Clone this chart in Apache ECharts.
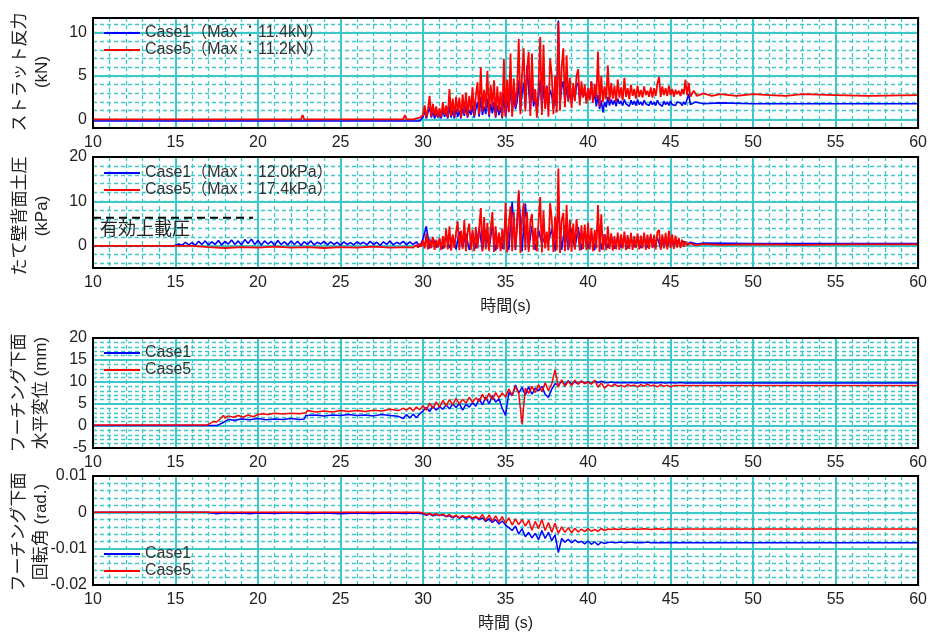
<!DOCTYPE html>
<html><head><meta charset="utf-8">
<script src="https://cdn.jsdelivr.net/npm/echarts@6/dist/echarts.min.js"></script>
<style>html,body{margin:0;padding:0;background:#fff}#c{width:930px;height:633px}</style>
</head><body><div id="c"></div>
<script>
// ---------------- tick values ----------------
const xTickStep = 5;
const p1MajorTicks = [0, 5, 10];
const p1MinorTicks = [0, 1, 2, 3, 4, 5, 6, 7, 8, 9, 10, 11];
const p2MajorTicks = [0, 10, 20];
const p2MinorTicks = [-4, -2, 0, 2, 4, 6, 8, 10, 12, 14, 16, 18];

// ---------------- legend names ----------------
const p1Names = ['Case1（Max ：11.4kN）', 'Case5（Max ：11.2kN）'];
const p2Names = ['Case1（Max ：12.0kPa）', 'Case5（Max ：17.4kPa）'];
const p34Names = ['Case1', 'Case5'];

// ---------------- Panel 1 : strut force (kN) ----------------
const strutDenseT0 = 29.5, strutDenseDt = 0.1;
const strutCase1Head = [[10, -0.2], [29.4, -0.2]];
const strutCase1Dense = [
  -0.2, -0.2, -0.1, -0.2, 0,
  0.3, 1.0, 0.1, 0.8, 1.4, 0.2, 0.9, 0.1, 0.7, 0.2,
  0.6, 0.1, 1.1, 0.3, 0.8, 0.1, 1.5, 0.2, 1.0, 0.1,
  1.2, 0.3, 1.0, 0.1, 1.3, 0.4, 1.5, 0.2, 1.1, 0.5,
  1.6, 0.2, 1.2, 2.0, 0.3, 2.6, 0.5, 1.5, 0.6, 2.4,
  0.3, 1.8, 0.7, 2.0, 0.2, 1.6, 0.5, 1.4, 0.1, 3.0,
  0.3, 2.2, 1.0, 3.8, 0.8, 2.6, 1.2, 2.0, 4.5, 1.0,
  3.0, 4.2, 1.3, 6.2, 3.5, 1.0, 3.8, 1.5, 2.6, 0.8,
  2.4, 4.6, 1.2, 4.0, 1.4, 3.9, 1.6, 3.4, 2.8, 1.2,
  2.8, 1.5, 11.4, 1.8, 3.6, 4.4, 2.0, 3.8, 2.2, 3.1,
  2.0, 3.4, 2.3, 3.9, 4.2, 2.1, 3.6, 2.6, 3.3, 2.2,
  3.0, 2.4, 4.4, 2.0, 3.1, 1.5, 2.8, 1.2, 2.2, 0.8,
  2.0, 1.4, 2.6, 1.6, 2.3, 1.7, 2.2, 1.5, 2.4, 1.8,
  2.1, 1.6, 2.3, 1.8, 2.0, 1.5, 2.2, 1.7, 2.1, 1.6,
  2.3, 1.7, 2.0, 1.6, 2.2, 1.8, 1.9, 1.6, 2.1, 1.7,
  2.0, 1.6, 2.2, 1.8, 1.9, 1.5, 2.1, 1.7, 2.0, 1.6,
  2.1, 1.7, 1.9, 1.6, 2.0, 1.8, 1.9, 1.6, 2.0, 1.7,
  1.8
];
const strutCase1Tail = [[46.1, 2.9], [46.2, 1.7], [46.5, 2.0], [47, 1.8], [48, 1.9], [50, 1.8], [53, 1.8], [56, 1.8], [60, 1.8]];

const strutCase5Head = [[10, 0], [22.6, 0], [22.7, 0.5], [22.8, 0], [28.8, 0], [28.9, 0.5], [29.0, 0], [29.4, 0]];
const strutCase5Dense = [
  0, 0.1, 0, 0.2, 0.3,
  0.5, 1.6, 0.2, 1.2, 2.7, 0.3, 1.8, 0.4, 1.5, 0.2,
  1.3, 0.3, 2.0, 0.5, 1.6, 0.2, 3.5, 0.4, 2.4, 0.3,
  2.6, 0.8, 2.5, 0.2, 2.9, 0.6, 3.1, 0.3, 2.7, 1.0,
  3.7, 0.4, 2.8, 4.3, 0.6, 6.0, 0.9, 3.4, 1.2, 5.6,
  0.5, 4.0, 1.4, 4.5, 0.3, 3.8, 1.0, 3.2, 0.2, 7.0,
  0.4, 4.6, 0.8, 7.6, 0.3, 4.7, 1.5, 3.6, 9.3, 0.6,
  5.2, 8.2, 0.9, 5.5, 7.8, 0.4, 7.6, 2.0, 3.5, 0.2,
  4.0, 9.5, 0.5, 8.6, 1.2, 3.8, 0.3, 7.0, 5.1, 0.6,
  5.0, 0.8, 11.2, 1.0, 6.0, 8.2, 1.4, 7.4, 2.0, 4.8,
  1.3, 4.2, 2.1, 5.0, 5.8, 1.6, 4.4, 2.5, 4.0, 1.8,
  3.6, 2.2, 4.4, 1.9, 4.1, 2.4, 7.8, 1.5, 5.0, 2.0,
  3.8, 2.3, 6.2, 2.1, 4.2, 2.4, 3.9, 2.0, 4.6, 2.5,
  3.7, 2.2, 4.8, 2.6, 3.6, 2.3, 4.0, 2.7, 3.5, 2.4,
  3.9, 2.6, 3.4, 2.5, 3.8, 2.8, 3.3, 2.6, 3.7, 2.5,
  3.6, 2.7, 4.1, 4.9, 2.6, 3.8, 2.8, 3.6, 2.7, 3.9,
  2.8, 3.5, 2.6, 3.4, 2.9, 3.3, 2.7, 3.5, 2.9, 4.6,
  2.8
];
const strutCase5Tail = [[46.1, 4.2], [46.2, 2.6], [46.4, 3.3], [46.6, 2.7], [47, 3.0], [47.5, 2.7], [48, 2.9], [49, 2.7], [50, 2.9], [51, 2.8], [52, 2.7], [53, 2.9], [55, 2.8], [57, 2.7], [60, 2.8]];

// ---------------- Panel 2 : earth pressure (kPa) ----------------
const pressCase1Head = [[10, 0], [14.9, 0]];
const pressCase1T0 = 15.0, pressCase1Dt = 0.2;
const pressCase1Dense = [
  0.0, 0.4, 0.1, 0.8, 0.2, 0.7, 0.1, 1.0, 0.3, 1.1,
  0.2, 0.9, 0.3, 1.2, 0.2, 1.0, 0.4, 1.3, 0.3, 1.1,
  0.2, 1.4, 0.5, 1.5, 0.3, 1.2, 0.2, 1.1, 0.4, 1.0,
  0.1, 1.2, 0.3, 0.9, 0.2, 1.1, 0.3, 1.0, 0.1, 0.9,
  0.3, 1.1, 0.2, 0.8, 0.4, 1.0, 0.2, 0.9, 0.3, 0.8,
  0.1, 0.9, 0.3, 0.7, 0.2, 0.9, 0.4, 0.8, 0.2, 1.0,
  0.3, 0.8, 0.1, 0.9, 0.3, 1.1, 0.2, 0.8, 0.4, 1.0,
  0.2, 0.9, 0.3,
  0.9, -0.2,
  1.6, 4.4, -0.6, 1.8, -0.4, 1.5, -0.7, 2.4, -0.5, 2.0,
  -0.8, 3.2, -0.4, 2.8, -0.9, 3.0, -0.6, 4.0, -1.0, 3.6,
  -0.5, 4.4, -1.1, 2.5, -0.7, 5.0, -0.9, 9.9, -1.0, 12.0,
  -1.2, 9.5, -0.8, 4.5, -1.0, 3.6, 0.5, 2.0, 1.0, 3.8,
  -1.1, 8.0, -0.9, 4.6, -1.0, 3.8, -0.7, 4.2, -0.9, 3.5,
  -0.6, 3.0, -1.0, 5.5, -0.8, 2.6, -0.5, 2.2, -0.7, 2.0,
  -0.4, 2.3, -0.6, 1.8, -0.3, 2.1, -0.5, 1.9, -0.4, 2.2,
  -0.3, 1.8, -0.5, 1.6, -0.2, 1.5, 0.0, 1.2, 0.1, 1.0,
  0.3
];
const pressCase1Tail = [[46.2, 0.8], [46.6, 0.4], [47, 0.6], [50, 0.5], [55, 0.5], [60, 0.5]];

const pressCase5Head = [[10, 0], [16.0, 0], [16.1, -0.4], [17, -0.3], [18, -0.5], [19, -0.3], [20, -0.4], [21, -0.2], [22, -0.4], [23, -0.3], [24, -0.5], [25, -0.3], [26, -0.4], [27, -0.2], [28, -0.4], [29, -0.3], [29.4, -0.4]];
const pressCase5T0 = 29.5, pressCase5Dt = 0.1;
const pressCase5Dense = [
  -0.3, 0.2, -0.4, 0.5, -0.2,
  1.2, -0.6, 2.8, -0.8, 1.6, -0.5, 2.0, -0.9, 1.4, -0.4,
  1.8, -1.0, 2.2, -0.6, 3.9, -0.8, 4.4, -1.1, 2.6, -0.5,
  3.0, 5.5, -1.0, 3.4, -0.7, 5.8, -1.2, 3.1, 5.0, -0.9,
  3.6, -1.2, 4.2, -0.6, 3.8, 8.5, -1.3, 6.5, -0.8, 5.2,
  -1.1, 4.0, 7.6, -1.4, 4.4, -0.7, 3.0, -1.2, 3.8, -0.9,
  9.7, -1.5, 5.0, 8.9, -1.2, 7.6, -0.8, 4.2, 12.5, -1.6,
  6.0, 9.6, -1.0, 7.6, -1.4, 5.4, 7.2, -0.9, 4.0, -1.2,
  5.5, 11.0, -1.5, 7.9, -0.6, 3.2, -1.1, 9.6, 6.0, -1.4,
  6.6, -1.0, 17.4, -1.6, 5.8, 7.4, -1.2, 9.2, -0.8, 5.8,
  -1.3, 5.0, -0.9, 6.0, 5.8, -1.1, 4.6, -0.7, 4.8, -1.0,
  5.2, -0.8, 4.0, -1.2, 3.6, -0.6, 9.2, -1.4, 7.1, -0.9,
  2.5, -1.0, 4.4, -0.7, 2.8, -1.1, 2.2, -0.8, 3.0, -0.9,
  2.6, -0.6, 3.2, -1.0, 2.4, -0.7, 2.9, -0.9, 2.2, -0.5,
  2.8, -0.8, 2.3, -0.6, 3.0, -0.9, 2.5, -0.7, 2.7, -0.5,
  2.4, -0.8, 3.1, 3.6, -0.9, 2.6, -0.6, 2.9, -0.8, 3.4,
  -0.5, 2.6, -0.7, 2.3, -0.4, 1.8, -0.5, 1.4, -0.2, 1.0,
  0.1
];
const pressCase5Tail = [[46.2, 0.6], [46.5, 0.1], [47, 0.4], [48, 0.2], [50, 0.3], [53, 0.2], [56, 0.3], [60, 0.3]];

const overburdenT = [10, 19.7];
const overburdenV = 6.3;

// ---------------- Panel 3 : footing horizontal displacement (mm) ----------------
const dispDenseT0 = 29.0, dispDenseDt = 0.2;
const dispCase1Head = [[10, 0.1], [17.5, 0.1], [17.9, 0.8], [18.2, 1.5], [18.6, 1.3], [19.0, 1.6], [19.5, 1.4], [20.0, 1.7], [20.5, 1.4], [21.0, 1.6], [21.5, 1.5], [22.0, 1.7], [22.5, 1.5], [22.8, 1.6], [22.9, 2.4], [23.5, 2.5], [24.0, 2.3], [24.5, 2.5], [25.0, 2.4], [25.5, 2.6], [26.0, 2.4], [26.5, 2.5], [27.0, 2.3], [27.5, 2.6], [28.0, 2.4], [28.5, 2.2], [28.8, 1.7]];
const dispCase1Dense = [
  2.6, 1.8, 2.7, 1.9, 2.8, 3.4, 4.2, 3.3, 4.5, 3.6,
  4.4, 3.8, 4.8, 3.9, 5.0, 4.2, 5.1, 3.6, 4.9, 4.3,
  5.3, 4.5, 6.2, 4.8, 6.6, 5.0, 6.9, 5.4, 6.2, 4.0,
  2.4, 7.6, 6.9, 9.3, 7.5, 8.8, 7.0, 8.9, 7.2, 8.6,
  8.0, 9.0, 7.2, 6.5, 8.4, 9.6, 9.3, 10.2, 9.4, 10.3,
  9.5, 10.0, 9.6, 10.2, 9.7, 10.1, 9.6, 10.3, 9.8, 10.2,
  9.9, 9.8, 10.0, 9.8, 9.9, 9.8, 9.9, 9.8, 9.9, 9.8,
  9.8, 9.9, 9.8, 9.8, 9.9, 9.8, 9.8, 9.9, 9.8, 9.8,
  9.9, 9.8, 9.8, 9.9, 9.8, 9.8
];
const dispCase1Tail = [[46.4, 9.8], [60, 9.8]];

const dispCase5Head = [[10, 0.2], [16.9, 0.2], [17.1, 0.6], [17.3, 1.0], [17.5, 0.9], [17.7, 1.6], [17.9, 2.4], [18.0, 1.8], [18.2, 2.3], [18.5, 2.0], [18.8, 2.4], [19.1, 2.0], [19.4, 2.5], [19.7, 2.1], [20.0, 2.6], [20.3, 2.8], [20.6, 2.6], [21.0, 2.9], [21.5, 2.7], [22.0, 2.9], [22.5, 2.8], [22.9, 3.0], [23.0, 3.5], [23.5, 3.2], [24.0, 3.4], [24.5, 3.2], [25.0, 3.5], [25.5, 3.3], [26.0, 3.5], [26.5, 3.3], [27.0, 3.6], [27.5, 3.4], [28.0, 3.8], [28.5, 3.5], [28.8, 4.0]];
const dispCase5Dense = [
  3.6, 4.2, 3.4, 4.3, 3.7, 4.6, 3.6, 5.2, 4.0, 5.5,
  4.3, 5.8, 4.6, 6.0, 4.8, 6.3, 5.0, 6.1, 5.2, 6.5,
  5.4, 6.4, 5.6, 7.2, 5.9, 7.4, 6.0, 7.6, 6.4, 7.5,
  6.6, 8.4, 7.0, 9.0, 7.4, 0.4, 8.6, 7.4, 9.0, 7.6,
  9.4, 7.8, 9.8, 8.0, 9.6, 12.8, 8.8, 10.5, 9.0, 10.2,
  9.2, 10.4, 9.5, 10.2, 9.6, 10.0, 9.5, 10.4, 8.8, 9.8,
  8.6, 9.4, 9.0, 9.5, 9.0, 9.3, 8.9, 9.4, 9.1, 9.3,
  8.9, 9.4, 9.0, 9.5, 9.1, 9.3, 8.9, 9.4, 9.0, 9.3,
  8.9, 9.2, 9.2, 9.2, 9.2, 9.2
];
const dispCase5Tail = [[46.4, 9.2], [60, 9.2]];

// ---------------- Panel 4 : footing rotation (rad.) ----------------
const rotDenseT0 = 29.0, rotDenseDt = 0.2;
const rotCase1Head = [[10, 0], [16.9, 0], [17.0, -0.0002], [17.5, -0.0004], [18.0, -0.0001], [18.5, -0.0003], [19.0, -0.0002], [19.5, -0.0004], [20, -0.0002], [21, -0.0003], [22, -0.0001], [23, -0.0003], [24, -0.0002], [25, -0.0004], [26, -0.0002], [27, -0.0003], [28, -0.0002], [28.8, -0.0003]];
const rotCase1Dense = [
  -0.0003, -0.0002, -0.0003, -0.0002, -0.0003, -0.0004, -0.0008, -0.0005, -0.0010, -0.0006,
  -0.0009, -0.0007, -0.0012, -0.0009, -0.0015, -0.0010, -0.0016, -0.0011, -0.0017, -0.0012,
  -0.0018, -0.0013, -0.0020, -0.0015, -0.0025, -0.0018, -0.0028, -0.0020, -0.0032, -0.0024,
  -0.0035, -0.0042, -0.0050, -0.0038, -0.0060, -0.0045, -0.0067, -0.0055, -0.0070, -0.0058,
  -0.0075, -0.0050, -0.0072, -0.0055, -0.0078, -0.0062, -0.0111, -0.0072, -0.0082, -0.0074,
  -0.0084, -0.0076, -0.0083, -0.0080, -0.0087, -0.0079, -0.0088, -0.0081, -0.0090, -0.0082,
  -0.0086, -0.0083, -0.0082, -0.0084, -0.0083, -0.0082, -0.0084, -0.0083, -0.0082, -0.0084,
  -0.0083, -0.0084, -0.0083, -0.0082, -0.0084, -0.0083, -0.0084, -0.0083, -0.0084, -0.0083,
  -0.0084, -0.0083, -0.0084, -0.0084, -0.0083, -0.0084
];
const rotCase1Tail = [[46.4, -0.0084], [60, -0.0084]];

const rotCase5Head = [[10, 0], [28.8, 0]];
const rotCase5Dense = [
  0, 0, 0, 0, 0, -0.0002, -0.0006, -0.0003, -0.0008, -0.0004,
  -0.0009, -0.0005, -0.0011, -0.0006, -0.0013, -0.0008, -0.0015, -0.0009, -0.0014, -0.0010,
  -0.0016, -0.0011, -0.0018, -0.0006, -0.0022, -0.0008, -0.0024, -0.0010, -0.0026, -0.0012,
  -0.0030, -0.0015, -0.0035, -0.0018, -0.0034, -0.0020, -0.0038, -0.0022, -0.0049, -0.0025,
  -0.0045, -0.0020, -0.0050, -0.0028, -0.0055, -0.0030, -0.0058, -0.0040, -0.0055, -0.0042,
  -0.0056, -0.0044, -0.0054, -0.0046, -0.0053, -0.0045, -0.0052, -0.0047, -0.0053, -0.0044,
  -0.0050, -0.0046, -0.0047, -0.0045, -0.0047, -0.0046, -0.0045, -0.0047, -0.0046, -0.0045,
  -0.0047, -0.0046, -0.0045, -0.0046, -0.0047, -0.0046, -0.0045, -0.0046, -0.0047, -0.0046,
  -0.0045, -0.0046, -0.0046, -0.0047, -0.0046, -0.0046
];
const rotCase5Tail = [[46.4, -0.0046], [60, -0.0046]];

// ---------------- build ----------------
function build(head, t0, dt, dense, tail) {
  const out = head.slice();
  dense.forEach((v, i) => out.push([Math.round((t0 + i * dt) * 100) / 100, v]));
  return out.concat(tail);
}

const BLUE = '#0000ff', RED = '#ff0000';
const GRIDC = '#3cc8c8';
const TXT = '#222';
const FONT = "'Liberation Sans', Arial, 'Noto Sans CJK JP', sans-serif";
const JFONT = "'Liberation Sans', 'Noto Sans CJK JP', sans-serif";

const grids = [
  { left: 93, width: 828, top: 18, height: 110 },
  { left: 93, width: 828, top: 157, height: 111 },
  { left: 93, width: 828, top: 338, height: 110 },
  { left: 93, width: 828, top: 476, height: 112 }
].map(g => Object.assign(g, { show: true, borderColor: '#000', borderWidth: 2, backgroundColor: 'transparent', z: 10 }));

function xAx(i, name) {
  return {
    type: 'value', gridIndex: i, min: 10, max: 60, interval: xTickStep,
    axisLine: { show: false }, axisTick: { show: false },
    axisLabel: { fontSize: 16, color: TXT, margin: 7, fontFamily: FONT, showMinLabel: true, showMaxLabel: true },
    splitLine: { show: true, lineStyle: { color: GRIDC, width: 2 } },
    minorTick: { show: false, splitNumber: 5 },
    minorSplitLine: { show: true, lineStyle: { color: GRIDC, width: 1.3, type: [4, 3] } },
    name: name || '', nameLocation: 'middle', nameGap: 31,
    nameTextStyle: { fontSize: 16, color: TXT, fontFamily: JFONT }
  };
}
const yLabel = { fontSize: 16, color: TXT, margin: 6, fontFamily: FONT };
function yMinor(i, min, max, ticks) {
  return {
    type: 'value', gridIndex: i, min: min, max: max, position: 'left',
    axisLine: { show: false }, axisTick: { show: false, customValues: ticks },
    axisLabel: { show: false },
    splitLine: { show: true, lineStyle: { color: GRIDC, width: 1.3, type: [4, 3] } }
  };
}
function yMajor(i, min, max, ticks) {
  return {
    type: 'value', gridIndex: i, min: min, max: max, position: 'left',
    axisLine: { show: false }, axisTick: { show: false, customValues: ticks },
    axisLabel: Object.assign({ customValues: ticks }, yLabel),
    splitLine: { show: true, lineStyle: { color: GRIDC, width: 2 } }
  };
}
function yNative(i, min, max, interval) {
  return {
    type: 'value', gridIndex: i, min: min, max: max, interval: interval, position: 'left',
    axisLine: { show: false }, axisTick: { show: false },
    axisLabel: Object.assign({ showMinLabel: true, showMaxLabel: true }, yLabel),
    splitLine: { show: true, lineStyle: { color: GRIDC, width: 2 } },
    minorTick: { show: false, splitNumber: 5 },
    minorSplitLine: { show: true, lineStyle: { color: GRIDC, width: 1.3, type: [4, 3] } }
  };
}

function ser(name, color, xi, yi, data, w) {
  return {
    type: 'line', name: name, xAxisIndex: xi, yAxisIndex: yi, data: data,
    showSymbol: false, symbol: 'none', sampling: null, animation: false,
    lineStyle: { color: color, width: w }, itemStyle: { color: color }, z: 3
  };
}
function leg(names, top) {
  return {
    data: names, left: 104, top: top, orient: 'vertical', padding: 0,
    itemWidth: 36, itemHeight: 14, itemGap: 0, selectedMode: false,
    icon: 'path://M0,6 L36,6 L36,8 L0,8 Z',
    textStyle: { fontSize: 16, color: '#333', fontFamily: JFONT, lineHeight: 17, padding: [0, 0, 0, 0] }
  };
}
function vTitle(text, cx, cy) {
  return {
    type: 'text', x: cx, y: cy, rotation: Math.PI / 2, z: 20,
    style: { text: text, font: "17px " + JFONT, fill: TXT, lineHeight: 22,
      textAlign: 'center', textVerticalAlign: 'middle', align: 'center', verticalAlign: 'middle' }
  };
}

const option = {
  animation: false,
  backgroundColor: '#fff',
  grid: grids,
  xAxis: [xAx(0), xAx(1, '時間(s)'), xAx(2), xAx(3, '時間 (s)')],
  yAxis: [
    yMinor(0, -1, 11.7, p1MinorTicks), yMajor(0, -1, 11.7, p1MajorTicks),
    yMinor(1, -5, 20, p2MinorTicks), yMajor(1, -5, 20, p2MajorTicks),
    yNative(2, -5, 20, 5),
    yNative(3, -0.02, 0.01, 0.01)
  ],
  legend: [leg(p1Names, 24.5), leg(p2Names, 164.5), leg(p34Names, 344.5), leg(p34Names, 545.5)],
  series: [
    ser(p1Names[0], BLUE, 0, 1, build(strutCase1Head, strutDenseT0, strutDenseDt, strutCase1Dense, strutCase1Tail), 1.6),
    ser(p1Names[1], RED, 0, 1, build(strutCase5Head, strutDenseT0, strutDenseDt, strutCase5Dense, strutCase5Tail), 1.8),
    ser(p2Names[0], BLUE, 1, 3, build(pressCase1Head, pressCase1T0, pressCase1Dt, pressCase1Dense, pressCase1Tail), 1.6),
    ser(p2Names[1], RED, 1, 3, build(pressCase5Head, pressCase5T0, pressCase5Dt, pressCase5Dense, pressCase5Tail), 1.8),
    {
      type: 'line', name: '有効上載圧', xAxisIndex: 1, yAxisIndex: 3, symbol: 'none', z: 4,
      data: overburdenT.map(t => [t, overburdenV]),
      lineStyle: { color: '#000', width: 2, type: [8, 5] }
    },
    ser(p34Names[0], BLUE, 2, 4, build(dispCase1Head, dispDenseT0, dispDenseDt, dispCase1Dense, dispCase1Tail), 1.5),
    ser(p34Names[1], RED, 2, 4, build(dispCase5Head, dispDenseT0, dispDenseDt, dispCase5Dense, dispCase5Tail), 1.5),
    ser(p34Names[0], BLUE, 3, 5, build(rotCase1Head, rotDenseT0, rotDenseDt, rotCase1Dense, rotCase1Tail), 1.5),
    ser(p34Names[1], RED, 3, 5, build(rotCase5Head, rotDenseT0, rotDenseDt, rotCase5Dense, rotCase5Tail), 1.5)
  ],
  graphic: [
    vTitle('ストラット反力\n(kN)', 31, 72),
    vTitle('たて壁背面土圧\n(kPa)', 31, 216),
    vTitle('フーチング下面\n水平変位 (mm)', 30, 393),
    vTitle('フーチング下面\n回転角 (rad.)', 30, 532),
    { type: 'text', x: 100, y: 230, z: 20,
      style: { text: '有効上載圧', font: "18px " + JFONT, fill: TXT,
        textAlign: 'left', textVerticalAlign: 'middle', align: 'left', verticalAlign: 'middle' } }
  ]
};

const chart = echarts.init(document.getElementById('c'), null, { renderer: 'canvas' });
chart.setOption(option);
</script>
</body></html>
